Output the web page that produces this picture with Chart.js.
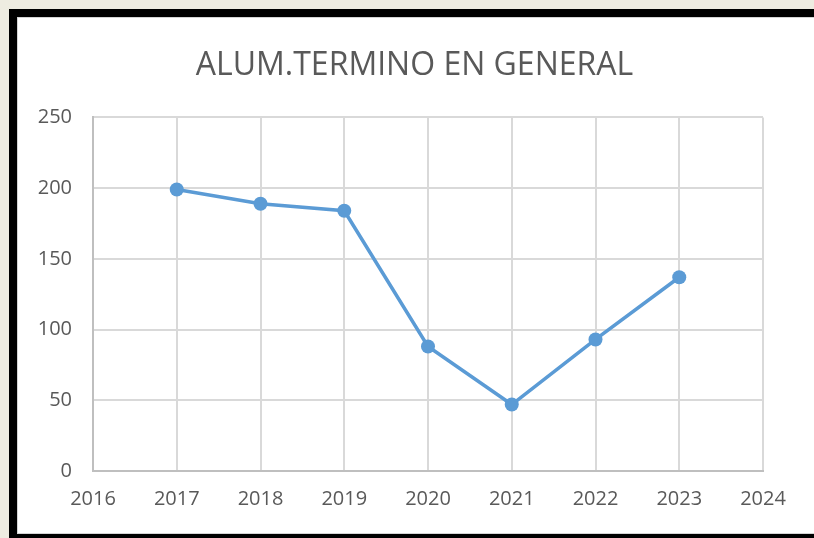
<!DOCTYPE html>
<html>
<head>
<meta charset="utf-8">
<script src="https://cdn.jsdelivr.net/npm/chart.js@4.4.1/dist/chart.umd.min.js"></script>
<style>
  html, body { margin: 0; padding: 0; }
  body { width: 814px; height: 538px; background: #eeece1; position: relative; overflow: hidden; }
  #frame { position: absolute; left: 9px; top: 9px; width: 830px; height: 540px; background: #000; }
  #inner { position: absolute; left: 17px; top: 17px; width: 830px; height: 515px; background: #fff; border: 1px solid #d4d4d4; }
  #wrap { position: absolute; left: 0; top: 0; width: 814px; height: 538px; }
</style>
</head>
<body>
<div id="frame"></div>
<div id="inner"></div>
<div id="wrap"><canvas id="chart"></canvas></div>
<script>
const chartTitle = 'ALUM.TERMINO EN GENERAL';
const years = [2017, 2018, 2019, 2020, 2021, 2022, 2023];
const alumnos = [199, 189, 184, 88, 47, 93, 137];
const xRange = [2016, 2024];
const yRange = [0, 250];

const textColor = '#595959';
const gridColor = '#d9d9d9';
const axisColor = '#bfbfbf';
const lineColor = '#5b9bd5';

const points = years.map((y, i) => ({ x: y, y: alumnos[i] }));

new Chart(document.getElementById('chart').getContext('2d'), {
    type: 'line',
    data: {
        datasets: [{
            label: chartTitle,
            data: points,
            borderColor: lineColor,
            backgroundColor: lineColor,
            borderWidth: 3.5,
            pointRadius: 7,
            pointBorderWidth: 0,
            pointHoverRadius: 7,
            tension: 0,
            fill: false
        }]
    },
    options: {
        responsive: true,
        maintainAspectRatio: false,
        animation: false,
        layout: { padding: { left: 33, right: 18, top: 0, bottom: 0 } },
        plugins: {
            legend: { display: false },
            tooltip: { enabled: false },
            title: {
                display: true,
                text: chartTitle,
                color: textColor,
                font: { family: 'Open Sans', size: 32, weight: 'normal', lineHeight: 1.2 },
                padding: { top: 47, bottom: 32 }
            }
        },
        scales: {
            x: {
                type: 'linear',
                min: xRange[0],
                max: xRange[1],
                afterFit: s => { s.height = 67; s.paddingRight = 0; s.paddingLeft = 0; },
                ticks: {
                    stepSize: 1,
                    padding: 16,
                    color: textColor,
                    font: { family: 'Open Sans', size: 20 },
                    callback: v => String(v)
                },
                grid: { color: gridColor, lineWidth: 2, drawTicks: false },
                border: { color: axisColor, width: 2 }
            },
            y: {
                min: yRange[0],
                max: yRange[1],
                afterFit: s => { s.width = 60; },
                ticks: {
                    stepSize: 50,
                    padding: 21,
                    color: textColor,
                    font: { family: 'Open Sans', size: 20 }
                },
                grid: { color: gridColor, lineWidth: 2, drawTicks: false },
                border: { color: axisColor, width: 2 }
            },
            // empty right-hand spacer so the plot ends where the original does
            spacer: {
                type: 'linear',
                position: 'right',
                min: yRange[0],
                max: yRange[1],
                afterFit: s => { s.width = 33; },
                ticks: { display: false },
                grid: { display: false, drawTicks: false },
                border: { display: false }
            }
        }
    }
});
</script>
</body>
</html>
